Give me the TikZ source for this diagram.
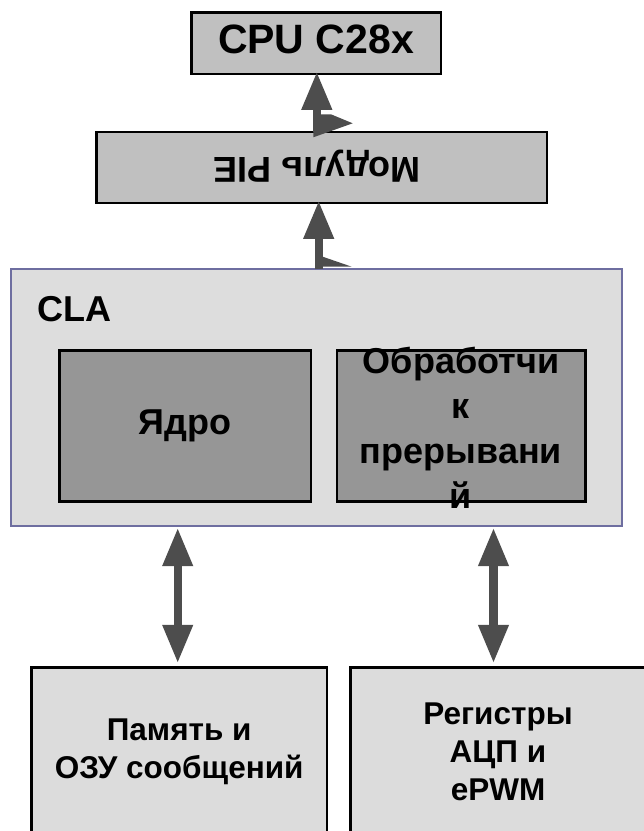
\documentclass[tikz,border=0pt]{standalone}
\usepackage{fontspec}
\setmainfont{Liberation Sans}
\usetikzlibrary{arrows.meta}
\definecolor{arrowgray}{HTML}{4D4D4D}
\definecolor{boxgray}{HTML}{C0C0C0}
\definecolor{clafill}{HTML}{DDDDDD}
\definecolor{clablue}{HTML}{6E6EA0}
\definecolor{coregray}{HTML}{969696}
\definecolor{lightbox}{HTML}{DCDCDC}
\begin{document}
\begin{tikzpicture}[x=1pt,y=-1pt,
  box/.style={draw=black, line width=2.5pt, inner sep=0pt, outer sep=0pt, align=center},
  biarrow/.style={draw=arrowgray, line width=8.4pt,
    {Triangle[width=28.4pt,length=38.3pt]}-{Triangle[width=28.4pt,length=38.3pt]}},
  uparrow/.style={draw=arrowgray, line width=8.4pt,
    -{Triangle[width=28.6pt,length=38.3pt]}},
  flag/.style={fill=arrowgray}]
\useasboundingbox (0,0) rectangle (644,831);
\clip (0,0) rectangle (644,831);
% top boxes
\node[box, fill=boxgray, minimum width=249.5pt, minimum height=61.5pt, text depth=8pt,
  font=\bfseries\fontsize{41}{49}\selectfont] (cpu) at (316,43) {CPU C28x};
\node[box, fill=boxgray, minimum width=450.5pt, minimum height=71pt] (pie) at (321.5,167.3) {};
\node[rotate=180, inner sep=0pt, font=\bfseries\fontsize{36}{43}\selectfont] (pietxt) at (317,166) {Модуль PIE};
% CLA
\node[draw=clablue, line width=2pt, fill=clafill, inner sep=0pt, outer sep=0pt,
  minimum width=611.3pt, minimum height=256.4pt] (cla) at (316.7,397.5) {};
\node[anchor=base west, inner sep=0pt, font=\bfseries\fontsize{36}{43}\selectfont] (clatxt) at (37.3,321) {CLA};
\node[box, fill=coregray, minimum width=251.2pt, minimum height=151.2pt,
  font=\bfseries\fontsize{36}{43}\selectfont] (core) at (185.2,425.9) {Ядро};
\node[box, fill=coregray, minimum width=248.5pt, minimum height=151.2pt] (irq) at (461.2,425.9) {};
\node[align=center, inner sep=0pt, font=\bfseries\fontsize{36}{45}\selectfont] (irqtxt) at (461,428) {Обработчи\\к\\прерывани\\й};
% bottom boxes
\node[box, fill=lightbox, minimum width=295.8pt, minimum height=169.5pt,
  font=\bfseries\fontsize{31.5}{37.5}\selectfont] (mem) at (179.2,752) {Память и\\ОЗУ сообщений};
\node[box, fill=lightbox, minimum width=294.9pt, minimum height=169.5pt,
  font=\bfseries\fontsize{31.5}{38.3}\selectfont] (regs) at (498,752) {Регистры\\АЦП и\\ePWM};
% connectors
\coordinate (lx) at (177.7,0);
\coordinate (rx) at (493.5,0);
\coordinate (tx) at (318.7,0);
\coordinate (ux) at (316.8,0);
\draw[biarrow, shorten <=2pt, shorten >=4pt] (lx |- cla.south) -- (lx |- mem.north);
\draw[biarrow, shorten <=2pt, shorten >=4pt] (rx |- cla.south) -- (rx |- regs.north);
\draw[uparrow, shorten >=-2.2pt] (tx |- cla.north) -- (tx |- pie.south);
\fill[flag] (322.7,256.7) -- (351.7,266.7) -- (322.7,266.7) -- cycle;
\draw[uparrow, shorten >=-2.2pt] (ux |- pie.north) -- (ux |- cpu.south);
\fill[flag] (313.3,114.3) -- (331,114.3) -- (352.7,123.3) -- (313.3,137.3) -- cycle;
\end{tikzpicture}
\end{document}
